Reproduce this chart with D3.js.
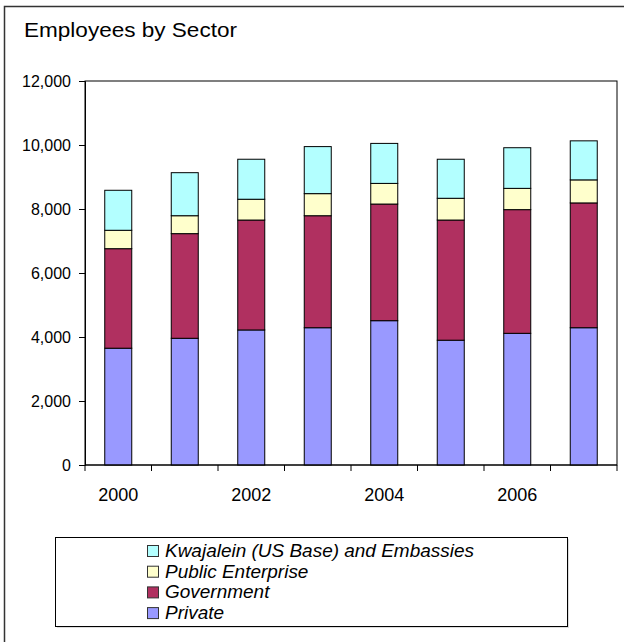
<!DOCTYPE html>
<html>
<head>
<meta charset="utf-8">
<script src="https://cdn.jsdelivr.net/npm/d3@7"></script>
<style>
  body { margin: 0; background: #fff; }
  text { font-family: "Liberation Sans", Arial, sans-serif; }
</style>
</head>
<body>
<div id="chart"></div>
<script>
// Data
var years = ["2000", "2001", "2002", "2003", "2004", "2005", "2006", "2007"];
var tickYears = ["2000", "2002", "2004", "2006"];
var privateEmp = [3650, 3960, 4220, 4290, 4510, 3900, 4115, 4290];
var government = [3110, 3270, 3435, 3500, 3645, 3755, 3865, 3900];
var publicEnterprise = [575, 560, 650, 690, 645, 680, 665, 720];
var kwajalein = [1250, 1345, 1250, 1470, 1250, 1220, 1270, 1220];
var seriesNames = ["Private", "Government", "Public Enterprise", "Kwajalein (US Base) and Embassies"];
var colors = ["#9999ff", "#b03060", "#ffffcc", "#b3ffff"];
var yTicks = [0, 2000, 4000, 6000, 8000, 10000, 12000];

var W = 624, H = 642;
var margin = { top: 81, left: 85 };
var width = 617 - margin.left,
    height = 465 - margin.top;

var svg = d3.select("#chart").append("svg")
    .attr("width", W)
    .attr("height", H);

// outer frame (right and bottom are cut off in the original)
svg.append("rect")
    .attr("x", 4.5).attr("y", 6.5)
    .attr("width", 640).attr("height", 660)
    .attr("fill", "none")
    .attr("stroke", "#333")
    .attr("stroke-width", 1.5);

svg.append("text")
    .attr("x", 24).attr("y", 37)
    .attr("font-size", 21)
    .attr("textLength", 213)
    .attr("lengthAdjust", "spacingAndGlyphs")
    .text("Employees by Sector");

var g = svg.append("g")
    .attr("transform", "translate(" + margin.left + "," + margin.top + ")");

var xb = d3.scaleBand().domain(years).range([0, width]);
var y = d3.scaleLinear().domain([0, 12000]).range([height, 0]);

// stacked data
var rows = years.map(function (yr, i) {
    return { year: yr, p: privateEmp[i], g: government[i], e: publicEnterprise[i], k: kwajalein[i] };
});
var stack = d3.stack().keys(["p", "g", "e", "k"]);
var layers = stack(rows);

// plot area border
g.append("rect")
    .attr("width", width).attr("height", height)
    .attr("fill", "none")
    .attr("stroke", "#000")
    .attr("stroke-width", 1);

layers.forEach(function (layer, li) {
    g.selectAll(".bar" + li)
        .data(layer)
        .enter().append("rect")
        .attr("x", function (d) { return xb(d.data.year) + xb.bandwidth() / 2 - 13.5; })
        .attr("width", 27)
        .attr("y", function (d) { return y(d[1]); })
        .attr("height", function (d) { return y(d[0]) - y(d[1]); })
        .attr("fill", colors[li])
        .attr("stroke", "#000")
        .attr("stroke-width", 1);
});

// y axis
var yAxis = g.append("g")
    .call(d3.axisLeft(y).tickValues(yTicks).tickSize(6).tickPadding(8)
        .tickFormat(d3.format(",")));
yAxis.selectAll("text").attr("font-size", 16).attr("fill", "#000");
yAxis.selectAll("line").attr("stroke", "#000");
yAxis.select(".domain").attr("stroke", "#000");

// x axis: ticks on band boundaries, labels on every other year
var xAxis = g.append("g").attr("transform", "translate(0," + height + ")");
xAxis.append("line").attr("x1", 0).attr("x2", width).attr("stroke", "#000");
xAxis.selectAll(".tk")
    .data(years.concat(["end"]))
    .enter().append("line")
    .attr("x1", function (d, i) { return i * xb.step(); })
    .attr("x2", function (d, i) { return i * xb.step(); })
    .attr("y1", 0).attr("y2", 6)
    .attr("stroke", "#000");
xAxis.selectAll(".lbl")
    .data(tickYears)
    .enter().append("text")
    .attr("x", function (d) { return xb(d) + xb.bandwidth() / 2; })
    .attr("y", 36)
    .attr("text-anchor", "middle")
    .attr("font-size", 18)
    .text(function (d) { return d; });

// legend
var lg = svg.append("g");
lg.append("rect")
    .attr("x", 57).attr("y", 539)
    .attr("width", 512).attr("height", 89)
    .attr("fill", "#ddd");
lg.append("rect")
    .attr("x", 55.5).attr("y", 537.5)
    .attr("width", 512).attr("height", 89)
    .attr("fill", "#fff")
    .attr("stroke", "#000");

var legendItems = [3, 2, 1, 0];
var stretch = null;
legendItems.forEach(function (si, i) {
    var cy = 551 + i * 20.7;
    lg.append("rect")
        .attr("x", 147.5).attr("y", cy - 5.5)
        .attr("width", 11).attr("height", 11)
        .attr("fill", colors[si])
        .attr("stroke", "#333");
    var t = lg.append("text")
        .attr("x", 165).attr("y", cy + 6)
        .attr("font-size", 18)
        .attr("font-style", "italic")
        .text(seriesNames[si]);
    var len = t.node().getComputedTextLength();
    if (stretch === null) stretch = 309 / len;
    t.attr("textLength", len * stretch).attr("lengthAdjust", "spacingAndGlyphs");
});
</script>
</body>
</html>
